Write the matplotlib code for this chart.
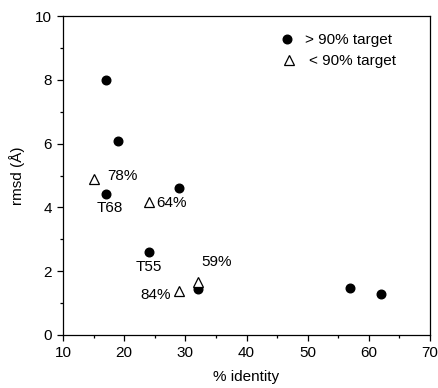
import matplotlib
matplotlib.use("Agg")
import matplotlib.pyplot as plt
from matplotlib.ticker import MultipleLocator

plt.rcParams["font.family"] = ["Liberation Sans", "DejaVu Sans"]

# > 90% target (filled circles)
hi_identity = [17, 19, 17, 29, 24, 32, 57, 62]
hi_rmsd = [8.0, 6.08, 4.41, 4.6, 2.61, 1.45, 1.47, 1.27]

# < 90% target (open triangles)
lo_identity = [15, 24, 29, 32]
lo_rmsd = [4.88, 4.18, 1.39, 1.67]

# point annotations: text, x, y, horizontal alignment
notes = [
    ("78%", 17.2, 5.0, "left"),
    ("T68", 17.7, 3.98, "center"),
    ("64%", 25.3, 4.13, "left"),
    ("T55", 24.0, 2.14, "center"),
    ("59%", 35.1, 2.28, "center"),
    ("84%", 27.7, 1.25, "right"),
]

fig = plt.figure(figsize=(4.38, 3.88), dpi=100)
ax = fig.add_axes([63 / 438, 53 / 388, 367 / 438, 319 / 388])

ax.plot(hi_identity, hi_rmsd, "o", color="black", ms=6.2, zorder=3)
ax.plot(lo_identity, lo_rmsd, "^", mfc="white", mec="black", mew=0.9, ms=7, zorder=4)

for txt, x, y, ha in notes:
    ax.text(x, y, txt, ha=ha, va="center", fontsize=11)

ax.set_xlim(10, 70)
ax.set_ylim(0, 10)
ax.xaxis.set_major_locator(MultipleLocator(10))
ax.xaxis.set_minor_locator(MultipleLocator(5))
ax.yaxis.set_major_locator(MultipleLocator(2))
ax.yaxis.set_minor_locator(MultipleLocator(1))
ax.tick_params(which="both", direction="out", top=False, right=False, labelsize=11, width=0.9)
ax.tick_params(which="major", length=4, pad=4)
ax.tick_params(which="minor", length=2.5)
for s in ax.spines.values():
    s.set_linewidth(0.9)

ax.set_xlabel("% identity", fontsize=11, labelpad=7)
ax.set_ylabel("rmsd (Å)", fontsize=11, labelpad=7)

# legend drawn as markers plus text in the upper right
ax.plot([46.6], [9.28], "o", color="black", ms=6.2, clip_on=False)
ax.plot([46.9], [8.62], "^", mfc="white", mec="black", mew=0.9, ms=7, clip_on=False)
ax.text(49.5, 9.26, "> 90% target", va="center", fontsize=11)
ax.text(50.2, 8.6, "< 90% target", va="center", fontsize=11)

fig.savefig("out.png", dpi=100)
